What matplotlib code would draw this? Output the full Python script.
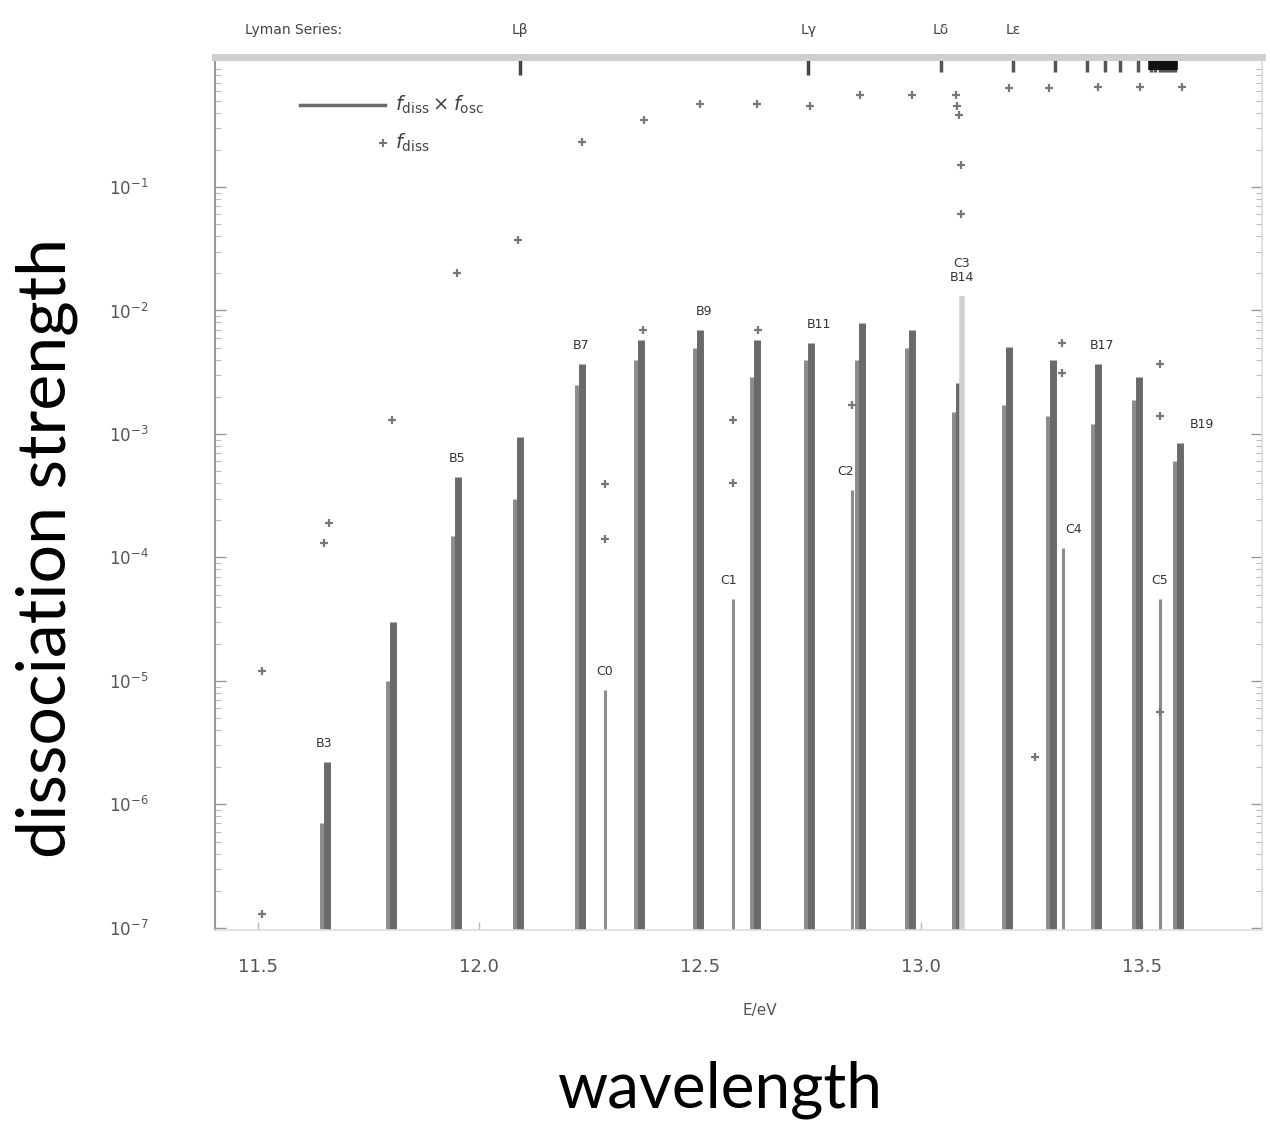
import matplotlib
matplotlib.use("Agg")
import matplotlib.pyplot as plt
import matplotlib.transforms as mtransforms
from matplotlib.ticker import LogLocator, FixedLocator, NullFormatter

# ---------------- data ----------------
# B-band (dark) lines: energy, main height, companion (lower) height
band_E = [11.655, 11.805, 11.952, 12.092, 12.232, 12.366, 12.500, 12.630,
          12.752, 12.867, 12.980, 13.085, 13.200, 13.298, 13.400, 13.493, 13.585]
band_top = [2.2e-6, 3.0e-5, 4.5e-4, 9.5e-4, 3.7e-3, 5.8e-3, 6.9e-3, 5.8e-3,
            5.5e-3, 7.9e-3, 6.9e-3, 2.6e-3, 5.1e-3, 4.0e-3, 3.7e-3, 2.9e-3, 8.5e-4]
band_low = [7.0e-7, 1.0e-5, 1.5e-4, 3.0e-4, 2.5e-3, 4.0e-3, 5.0e-3, 2.9e-3,
            4.0e-3, 4.0e-3, 5.0e-3, 1.5e-3, 1.7e-3, 1.4e-3, 1.2e-3, 1.9e-3, 6.0e-4]

# C-band (Werner) lines
c_E = [12.285, 12.575, 12.845, 13.092, 13.322, 13.540]
c_top = [8.5e-6, 4.6e-5, 3.5e-4, 1.3e-2, 1.2e-4, 4.6e-5]

# f_diss points
fd_E = [11.509, 11.650, 11.660, 11.803, 11.950, 12.088, 12.233, 12.373, 12.500,
        12.629, 12.749, 12.862, 12.980, 13.080, 13.082, 13.085, 13.090, 13.090,
        13.200, 13.290, 13.400, 13.495, 13.590,
        12.285, 12.285, 12.575, 12.575, 12.844, 13.320, 13.320, 13.258,
        13.540, 13.540, 13.540, 12.372, 12.632, 11.509]
fd_val = [1.2e-5, 1.3e-4, 1.9e-4, 1.3e-3, 2.0e-2, 3.7e-2, 0.23, 0.35, 0.47,
          0.47, 0.45, 0.56, 0.56, 0.56, 0.45, 0.38, 0.15, 0.06,
          0.63, 0.63, 0.65, 0.65, 0.65,
          3.9e-4, 1.4e-4, 1.3e-3, 4.0e-4, 1.7e-3, 5.5e-3, 3.1e-3, 2.4e-6,
          3.7e-3, 1.4e-3, 5.6e-6, 7.0e-3, 7.0e-3, 1.3e-7]

# line labels
lab_text = ["B3", "B5", "B7", "B9", "B11", "C0", "C1", "C2", "C3\nB14", "C4",
            "B17", "C5", "B19"]
lab_E = [11.650, 11.950, 12.232, 12.510, 12.770, 12.285, 12.565, 12.830,
         13.092, 13.345, 13.410, 13.540, 13.635]
lab_y = [2.2e-6, 4.5e-4, 3.7e-3, 6.9e-3, 5.5e-3, 8.5e-6, 4.6e-5, 3.5e-4,
         1.3e-2, 1.2e-4, 3.7e-3, 4.6e-5, 8.5e-4]

# Lyman series marks on the top axis
lyman_E = [12.093, 12.745, 13.045, 13.208, 13.303, 13.375, 13.416, 13.450,
           13.490, 13.520, 13.530, 13.540, 13.548, 13.555, 13.562, 13.568, 13.574]
lyman_lab = ["L\u03b2", "L\u03b3", "L\u03b4", "L\u03b5"]

xticks = [11.5, 12.0, 12.5, 13.0, 13.5]
yticks = [1e-7, 1e-6, 1e-5, 1e-4, 1e-3, 1e-2, 1e-1]
ytick_labels = [r"$10^{-7}$", r"$10^{-6}$", r"$10^{-5}$", r"$10^{-4}$",
                r"$10^{-3}$", r"$10^{-2}$", r"$10^{-1}$"]

# ---------------- figure ----------------
fig = plt.figure(figsize=(12.7, 11.28), dpi=100)
ax = fig.add_axes([0.1693, 0.1755, 0.8244, 0.774])
ax.set_yscale("log")
ax.set_xlim(11.4027, 13.7715)
ax.set_ylim(9.6e-8, 1.13)
ybot = 9.6e-8

dark = "#6a6a6a"
mid = "#8c8c8c"
light = "#d2d2d2"

# companion (lower) lines
ax.vlines([e - 0.009 for e in band_E], ybot, band_low, colors=mid, lw=5)
# main B lines
ax.vlines(band_E, ybot, band_top, colors=dark, lw=5)
# C lines
for e, t in zip(c_E, c_top):
    if t > 1e-3:
        ax.vlines(e, ybot, t, colors=light, lw=4)
    else:
        ax.vlines(e, ybot, t, colors=mid, lw=2.2)

# f_diss markers
ax.plot(fd_E, fd_val, linestyle="none", marker="+", ms=6, mew=1.6,
        color="#777777", clip_on=False)

# labels
for t, e, y in zip(lab_text, lab_E, lab_y):
    ax.text(e, y * 1.25, t, ha="center", va="bottom", fontsize=9,
            color="#333333", linespacing=1.1)

# ticks
ax.xaxis.set_major_locator(FixedLocator(xticks))
ax.set_xticklabels([f"{v:.1f}" for v in xticks])
ax.set_yticks(yticks)
ax.set_yticklabels(ytick_labels)
ax.yaxis.set_minor_locator(LogLocator(base=10, subs=range(2, 10)))
ax.yaxis.set_minor_formatter(NullFormatter())
ax.tick_params(axis="y", which="major", direction="in", length=8, width=1,
               color="#999999", labelsize=12, labelcolor="#555555", pad=48,
               right=True)
ax.tick_params(axis="y", which="minor", direction="in", length=4, width=0.8,
               color="#bbbbbb", right=True)
ax.tick_params(axis="x", which="major", direction="in", length=6, width=1,
               color="#bbbbbb", labelsize=13, labelcolor="#555555", pad=20)

for s in ["left"]:
    ax.spines[s].set_color("#9a9a9a")
    ax.spines[s].set_linewidth(1.5)
for s in ["right", "bottom"]:
    ax.spines[s].set_color("#dddddd")
    ax.spines[s].set_linewidth(1.2)
ax.spines["top"].set_color("#cfcfcf")
ax.spines["top"].set_linewidth(5)

# Lyman series marks
trans = mtransforms.blended_transform_factory(ax.transData, ax.transAxes)
ax.vlines(lyman_E[:2], 0.979, 1.003, colors="#444444", lw=2.5,
          transform=trans, clip_on=False)
ax.vlines(lyman_E[2:], 0.983, 1.003, colors="#555555", lw=2.5,
          transform=trans, clip_on=False)
ax.vlines(lyman_E[-8:], 0.985, 1.003, colors="#111111", lw=4,
          transform=trans, clip_on=False)
for e, t in zip(lyman_E[:4], lyman_lab):
    ax.text(e, 1.023, t, transform=trans, ha="center", va="bottom",
            fontsize=10, color="#444444")
ax.text(0.029, 1.023, "Lyman Series:", transform=ax.transAxes, ha="left",
        va="bottom", fontsize=10, color="#444444")

# manual legend
ax.plot([0.081, 0.162], [0.945, 0.945], transform=ax.transAxes, color=dark,
        lw=2.5, clip_on=False)
ax.text(0.172, 0.945, r"$f_{\rm diss}\times f_{\rm osc}$", transform=ax.transAxes,
        ha="left", va="center", fontsize=14, color="#444444")
ax.plot([0.160], [0.9015], transform=ax.transAxes, marker="+", ms=6, mew=1.5,
        color="#777777", linestyle="none")
ax.text(0.172, 0.9015, r"$f_{\rm diss}$", transform=ax.transAxes,
        ha="left", va="center", fontsize=14, color="#444444")

# axis labels
fig.text(0.598, 0.1046, "E/eV", ha="center", va="center", fontsize=11,
         color="#555555")
fig.text(0.567, 0.034, "wavelength", ha="center", va="center", fontsize=46,
         family="Lato", color="black")
fig.text(0.037, 0.514, "dissociation strength", ha="center", va="center",
         fontsize=49, family="Lato", rotation=90, color="black")

fig.savefig("out.png", dpi=100)
